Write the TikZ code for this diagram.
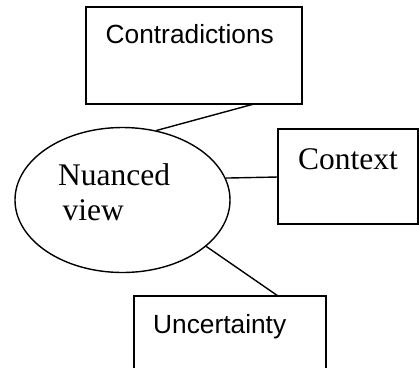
\documentclass[tikz,border=0pt]{standalone}
\usepackage{fontspec}
\setmainfont{Liberation Serif}
\newfontfamily\arialfont{Liberation Sans}
\usetikzlibrary{shapes.geometric}
\begin{document}
\begin{tikzpicture}[x=1pt,y=-1pt,
  box/.style={draw, line width=1.4pt, rectangle, inner sep=0pt},
  conn/.style={line width=1.4pt},
  sanslabel/.style={anchor=base west, inner sep=0pt, font=\arialfont\fontsize{26.3}{30}\selectfont},
  seriflabel/.style={anchor=base west, inner sep=0pt, font=\fontsize{31.5}{35}\selectfont}]
\useasboundingbox (0,0) rectangle (419,367);
\clip (0,0) rectangle (419,367);
% boxes
\node[box, minimum width=216pt, minimum height=97pt] (contra) at (194,55.5) {};
\node[box, minimum width=140pt, minimum height=95pt] (context) at (348,176.5) {};
\node[box, minimum width=192pt, minimum height=110pt] (uncert) at (230,351) {};
% ellipse
\node[draw, line width=1.4pt, ellipse, inner sep=0pt, minimum width=215pt, minimum height=145pt] (nuance) at (122.5,200) {};
% texts
\node[sanslabel] (contratext) at (105.5,43) {Contradictions};
\node[seriflabel] (contexttext) at (298,169) {Context};
\node[sanslabel] (uncerttext) at (153,333) {Uncertainty};
\node[seriflabel] (nuancedtext) at (58,185) {Nuanced};
\node[seriflabel] (viewtext) at (62.5,220) {view};
% connectors
\coordinate (c1) at (254,104);
\coordinate (c2) at (278,177);
\coordinate (c3) at (278,296);
\draw[conn] (c1) -- (nuance.64);
\draw[conn] (nuance.12) -- (c2);
\draw[conn] (nuance.-29) -- (c3);
\end{tikzpicture}
\end{document}
